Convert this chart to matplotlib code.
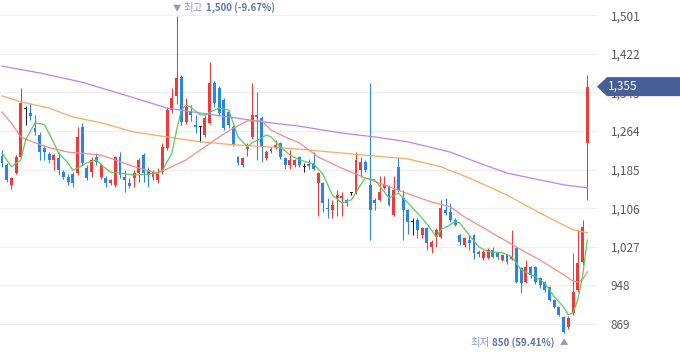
import matplotlib
matplotlib.use('Agg')
import matplotlib.pyplot as plt
from matplotlib.patches import Polygon
from matplotlib.transforms import IdentityTransform
import numpy as np

plt.rcParams['font.family'] = ['Noto Sans CJK KR', 'DejaVu Sans']

# ---- data (daily candles, oldest -> newest) ----
opens = [1213, 1195, 1154, 1178, 1211, 1309, 1301, 1270, 1256, 1230,
         1217, 1205, 1209, 1180, 1170, 1176, 1178, 1272, 1188, 1180,
         1211, 1170, 1168, 1158, 1154, 1211, 1170, 1158, 1168, 1178,
         1215, 1184, 1170, 1164, 1180, 1230, 1307, 1336, 1375, 1283,
         1303, 1277, 1272, 1256, 1281, 1362, 1352, 1328, 1303, 1272,
         1211, 1195, 1227, 1252, 1297, 1291, 1209, 1227, 1230, 1240,
         1209, 1195, 1195, 1211, 1191, 1197, 1199, 1158, 1158, 1107,
         1103, 1127, 1127, 1123, 1137, 1137, 1184, 1201, 1154, 1123,
         1123, 1148, 1150, 1092, 1191, 1127, 1103, 1078, 1082, 1051,
         1066, 1027, 1047, 1047, 1103, 1098, 1082, 1051, 1031, 1041,
         1051, 1017, 1005, 1005, 1021, 1015, 1000, 1011, 1003, 1025,
         984, 955, 986, 986, 964, 955, 945, 919, 903, 884,
         864, 892, 939, 996, 1240]
highs = [1225, 1199, 1170, 1215, 1352, 1315, 1322, 1297, 1262, 1236,
         1221, 1217, 1221, 1184, 1176, 1180, 1272, 1281, 1195, 1211,
         1219, 1199, 1172, 1166, 1213, 1221, 1184, 1168, 1184, 1209,
         1219, 1191, 1184, 1188, 1240, 1313, 1352, 1500, 1379, 1332,
         1318, 1297, 1275, 1297, 1405, 1366, 1356, 1332, 1307, 1277,
         1213, 1211, 1240, 1362, 1344, 1295, 1225, 1232, 1246, 1242,
         1211, 1225, 1207, 1213, 1199, 1207, 1221, 1180, 1160, 1127,
         1123, 1143, 1139, 1127, 1139, 1221, 1211, 1205, 1362, 1127,
         1172, 1172, 1154, 1172, 1211, 1143, 1105, 1086, 1086, 1068,
         1068, 1041, 1066, 1123, 1127, 1117, 1086, 1054, 1047, 1051,
         1054, 1021, 1021, 1025, 1027, 1017, 1013, 1013, 1062, 1027,
         986, 1000, 988, 988, 966, 957, 947, 921, 905, 886,
         886, 1015, 1062, 1082, 1379]
lows = [1190, 1160, 1146, 1176, 1209, 1277, 1287, 1256, 1205, 1205,
        1199, 1184, 1174, 1166, 1154, 1150, 1174, 1195, 1164, 1170,
        1195, 1166, 1150, 1154, 1150, 1168, 1139, 1148, 1150, 1160,
        1160, 1150, 1164, 1158, 1176, 1225, 1301, 1320, 1277, 1279,
        1285, 1260, 1242, 1252, 1279, 1313, 1295, 1266, 1270, 1234,
        1195, 1191, 1213, 1248, 1205, 1201, 1205, 1219, 1227, 1207,
        1186, 1186, 1190, 1191, 1180, 1186, 1184, 1090, 1098, 1086,
        1086, 1090, 1090, 1111, 1133, 1135, 1170, 1180, 1041, 1103,
        1121, 1146, 1111, 1090, 1139, 1041, 1054, 1051, 1045, 1045,
        1021, 1015, 1027, 1045, 1092, 1078, 1070, 1031, 1027, 1021,
        1003, 1007, 1000, 1003, 1005, 1003, 998, 992, 1000, 953,
        933, 953, 964, 951, 943, 935, 917, 901, 886, 850,
        858, 888, 935, 990, 1123]
closes = [1199, 1164, 1168, 1211, 1322, 1309, 1295, 1262, 1221, 1221,
          1205, 1215, 1184, 1170, 1160, 1158, 1252, 1199, 1168, 1205,
          1201, 1195, 1158, 1164, 1211, 1174, 1164, 1152, 1178, 1205,
          1178, 1174, 1180, 1178, 1232, 1307, 1332, 1373, 1283, 1313,
          1297, 1272, 1272, 1291, 1362, 1322, 1301, 1270, 1277, 1236,
          1199, 1209, 1232, 1297, 1293, 1232, 1221, 1223, 1236, 1211,
          1195, 1205, 1205, 1195, 1191, 1193, 1186, 1178, 1117, 1105,
          1113, 1133, 1131, 1117, 1137, 1205, 1201, 1184, 1103, 1117,
          1139, 1154, 1113, 1143, 1143, 1103, 1078, 1078, 1062, 1066,
          1035, 1037, 1062, 1107, 1096, 1082, 1072, 1037, 1045, 1035,
          1015, 1013, 1017, 1021, 1007, 1007, 1011, 996, 1007, 955,
          953, 986, 970, 955, 949, 939, 919, 903, 888, 852,
          882, 935, 994, 1068, 1355]

# moving averages (day index, value)
ma5_day = [0, 1, 2, 4, 5, 7, 9, 11, 12, 14, 15, 16, 18, 20, 21, 23, 25, 28, 31, 33,
           34, 36, 37, 38, 39, 40, 42, 43, 45, 46, 48, 49, 50, 52, 53, 55, 56, 57, 59, 61,
           63, 66, 68, 70, 72, 74, 76, 77, 79, 82, 84, 86, 89, 91, 92, 93, 96, 97, 99, 101,
           103, 106, 108, 110, 113, 115, 117, 119, 120, 121, 122, 123, 124]
ma5_val = [1219, 1205, 1191, 1205, 1246, 1281, 1277, 1240, 1219, 1199, 1184, 1188, 1199, 1205, 1195, 1180, 1178, 1174, 1176, 1178,
           1184, 1219, 1266, 1307, 1317, 1313, 1297, 1297, 1307, 1311, 1307, 1281, 1252, 1232, 1240, 1250, 1256, 1252, 1232, 1215,
           1205, 1197, 1176, 1133, 1117, 1123, 1154, 1168, 1164, 1127, 1137, 1117, 1086, 1062, 1047, 1062, 1078, 1076, 1051, 1027,
           1017, 1015, 1007, 980, 966, 953, 925, 904, 888, 892, 919, 966, 1041]
ma20_day = [0, 2, 4, 7, 10, 14, 21, 24, 28, 33, 36, 39, 42, 46, 49, 52, 55, 57, 60, 63,
            67, 72, 77, 81, 84, 88, 91, 95, 98, 102, 105, 110, 114, 118, 121, 122, 123, 124]
ma20_val = [1303, 1280, 1252, 1240, 1230, 1221, 1215, 1205, 1191, 1178, 1191, 1205, 1225, 1252, 1270, 1285, 1285, 1266, 1252, 1240,
            1211, 1188, 1168, 1154, 1143, 1129, 1119, 1109, 1088, 1066, 1049, 1021, 1000, 976, 957, 955, 960, 976]
ma60_day = [0, 4, 10, 15, 21, 28, 35, 42, 49, 56, 63, 72, 79, 86, 93, 100, 107, 114, 121, 124]
ma60_val = [1336, 1324, 1311, 1293, 1281, 1262, 1252, 1242, 1236, 1232, 1227, 1219, 1213, 1207, 1191, 1164, 1133, 1096, 1062, 1056]
ma120_day = [0, 8, 17, 28, 35, 42, 56, 63, 72, 79, 86, 95, 101, 107, 114, 119, 124]
ma120_val = [1397, 1383, 1364, 1332, 1311, 1301, 1282, 1274, 1260, 1252, 1242, 1221, 1199, 1178, 1164, 1154, 1148]

tick_values = [1501, 1422, 1343, 1264, 1185, 1106, 1027, 948, 869]
tick_labels = ['1,501', '1,422', '1,343', '1,264', '1,185', '1,106', '1,027', '948', '869']
high_day, high_word, high_text = 37, '최고', '1,500 (-9.67%)'
low_day, low_word, low_text = 119, '최저', '850 (59.41%)'
last_label = '1,355'

# ---- figure ----
fig = plt.figure(figsize=(6.8, 3.58), dpi=100)
ax = fig.add_axes([0, 0, 597 / 680, 1])
ax.set_xlim(-0.42, 126.06)
ax.set_ylim(799.6, 1532.3)
for s in ax.spines.values():
    s.set_visible(False)
ax.set_xticks([])
ax.yaxis.tick_right()
ax.set_yticks(tick_values)
ax.set_yticklabels(tick_labels)
ax.tick_params(axis='y', length=0, pad=10, labelsize=8.5, labelcolor='#5a5a5a')
ax.grid(axis='y', color='#eef0f4', lw=0.9)
ax.set_axisbelow(True)

RED, BLUE, BLACK = '#f03a3a', '#2b84ec', '#222222'
o = np.array(opens, float); h = np.array(highs, float)
l = np.array(lows, float); c = np.array(closes, float)
x = np.arange(len(o))
cols = [RED if cc > oo else (BLUE if cc < oo else BLACK) for oo, cc in zip(o, c)]
ax.vlines(x, l, h, colors=cols, lw=0.75, zorder=2)
bottoms = np.minimum(o, c)
heights = np.maximum(np.abs(c - o), 1.6)
ax.bar(x, heights, bottom=bottoms, width=0.62, color=cols, linewidth=0, zorder=2.5)

ax.plot(ma120_day, ma120_val, color='#b388f2', lw=0.9, zorder=3)
ax.plot(ma60_day, ma60_val, color='#f7ab62', lw=0.9, zorder=3)
ax.plot(ma20_day, ma20_val, color='#f58c8c', lw=0.9, zorder=3)
ax.plot(ma5_day, ma5_val, color='#5ccb5c', lw=0.9, zorder=3)

# high / low annotations (chained pieces)
fam = ['Noto Sans CJK KR', 'DejaVu Sans']
LIGHT, DARK = '#8c9cc6', '#6274aa'
tri_hi = ax.annotate('▼', xy=(high_day, 1), xycoords=('data', 'axes fraction'),
                     xytext=(0, -8), textcoords='offset pixels', ha='center', va='center',
                     fontsize=6, color=LIGHT, family=fam)
w_hi = ax.annotate(high_word, xy=(1, 0.5), xycoords=tri_hi,
                   xytext=(3, 0), textcoords='offset pixels', ha='left', va='center',
                   fontsize=7.5, color=LIGHT, family=fam)
ax.annotate(high_text, xy=(1, 0.5), xycoords=w_hi,
            xytext=(3, 0), textcoords='offset pixels', ha='left', va='center',
            fontsize=7, color=DARK, fontweight='bold', family=fam)

tri_lo = ax.annotate('▲', xy=(low_day, 0), xycoords=('data', 'axes fraction'),
                     xytext=(0, 15), textcoords='offset pixels', ha='center', va='center',
                     fontsize=6, color=LIGHT, family=fam)
t_lo = ax.annotate(low_text, xy=(0, 0.5), xycoords=tri_lo,
                   xytext=(-5, 0), textcoords='offset pixels', ha='right', va='center',
                   fontsize=7, color=DARK, fontweight='bold', family=fam)
ax.annotate(low_word, xy=(0, 0.5), xycoords=t_lo,
            xytext=(-2, 0), textcoords='offset pixels', ha='right', va='center',
            fontsize=7.5, color=LIGHT, family=fam)

# last price badge (drawn over the partly hidden 1,343 tick label, as in the chart)
yc = ax.transData.transform((0, closes[-1]))[1]
badge = Polygon([(597, yc), (607, yc + 9.5), (680, yc + 9.5), (680, yc - 9.5), (607, yc - 9.5)],
                closed=True, transform=IdentityTransform(), facecolor='#465f98',
                edgecolor='none', zorder=5)
fig.add_artist(badge)
fig.text(608, yc, last_label, transform=IdentityTransform(), color='white',
         fontsize=8.5, ha='left', va='center', zorder=6)

fig.savefig('out.png', dpi=100)
